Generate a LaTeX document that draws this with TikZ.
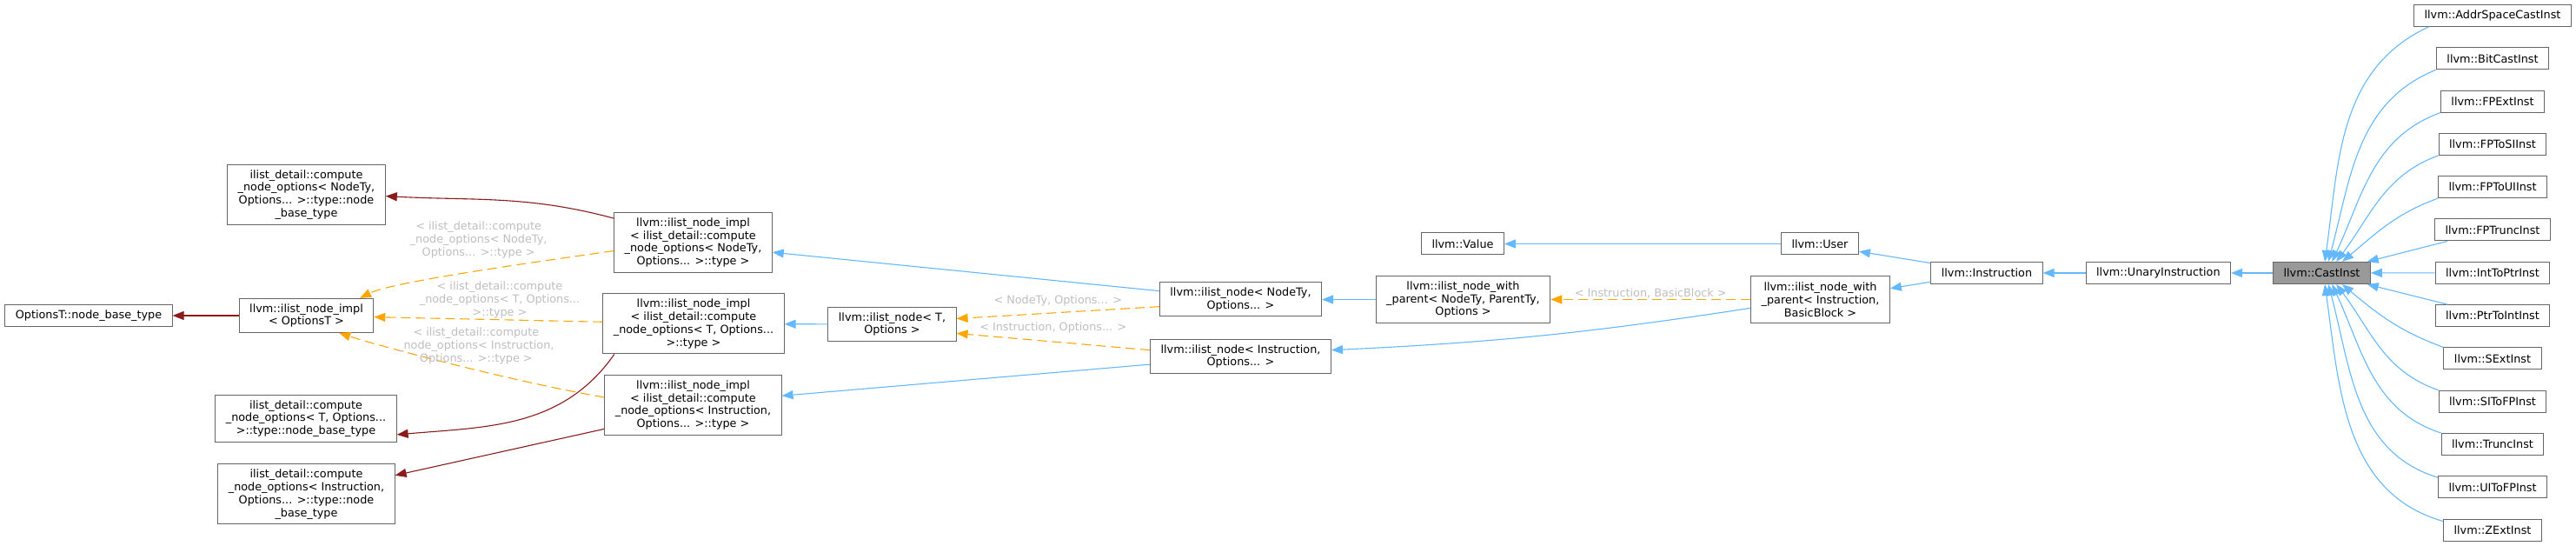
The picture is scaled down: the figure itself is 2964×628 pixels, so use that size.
\documentclass[tikz,border=0pt]{standalone}
\usepackage{fontspec}
\setmainfont{DejaVu Sans}
\usepackage{xcolor}
\usepackage{tikz}
\usetikzlibrary{arrows.meta, positioning}
\definecolor{DX_BLUE}{HTML}{63B8FF}
\definecolor{DX_ORANGE}{HTML}{FFA500}
\definecolor{DX_RED}{HTML}{8B1A1A}
\definecolor{DX_GREY}{HTML}{666666}
\definecolor{DX_FOCUS}{HTML}{999999}
\definecolor{DX_LABEL}{HTML}{BEBEBE}
\newcommand{\dxfont}{\fontsize{12.8}{14.8}\selectfont}
\tikzset{
  cls/.style={
    rectangle, draw=DX_GREY, fill=white, line width=1pt,
    minimum height=25pt, inner xsep=12pt, inner ysep=2pt,
    text centered, align=center, font=\dxfont},
  cls2/.style={cls, minimum height=39pt},
  cls3/.style={cls, minimum height=54pt},
  cls4/.style={cls, minimum height=69pt},
  focus/.style={cls, fill=DX_FOCUS},
  inh/.style={-{Triangle[length=13pt,width=10pt]}, line width=1.1pt, color=DX_BLUE},
  tpl/.style={inh, color=DX_ORANGE, dash pattern=on 11pt off 6pt},
  dep/.style={inh, color=DX_RED},
  lbl/.style={font=\dxfont, text=DX_LABEL, align=center, inner sep=1pt},
}

\begin{document}
\begin{tikzpicture}[x=1pt, y=1pt, node distance=23.3pt]
  \useasboundingbox (0,0) rectangle (2964,628);

  % base side
  \node[cls] (optbase) at (102,265) {OptionsT::node\_base\_type};
  \node[cls2] (implopt) at (352.5,265) {llvm::ilist\_node\_impl\\< OptionsT >};
  \node[cls4] (cnonodety) at (352.5,404)
    {ilist\_detail::compute\\\_node\_options< NodeTy,\\Options... >::type::node\\\_base\_type};
  \node[cls3] (cnot) at (352,146.5)
    {ilist\_detail::compute\\\_node\_options< T, Options...\\>::type::node\_base\_type};
  \node[cls4] (cnoinstr) at (352.5,59.5)
    {ilist\_detail::compute\\\_node\_options< Instruction,\\Options... >::type::node\\\_base\_type};

  \node[cls4] (implnodety) at (797.5,349)
    {llvm::ilist\_node\_impl\\< ilist\_detail::compute\\\_node\_options< NodeTy,\\Options... >::type >};
  \node[cls4] (implt) at (798,255.5)
    {llvm::ilist\_node\_impl\\< ilist\_detail::compute\\\_node\_options< T, Options...\\>::type >};
  \node[cls4] (implinstr) at (797.5,162)
    {llvm::ilist\_node\_impl\\< ilist\_detail::compute\\\_node\_options< Instruction,\\Options... >::type >};

  \node[cls2] (nodet) at (1026.5,255) {llvm::ilist\_node< T,\\Options >};
  \node[cls2] (nodenodety) at (1427.5,283.5) {llvm::ilist\_node< NodeTy,\\Options... >};
  \node[cls2] (nodeinstr) at (1427.5,218) {llvm::ilist\_node< Instruction,\\Options... >};

  \node[cls3] (withnodety) at (1683.5,283.5)
    {llvm::ilist\_node\_with\\\_parent< NodeTy, ParentTy,\\Options >};
  \node[cls3] (withinstr) at (2094.5,283.5)
    {llvm::ilist\_node\_with\\\_parent< Instruction,\\BasicBlock >};
  \node[cls] (value) at (1683,347.5) {llvm::Value};
  \node[cls] (user) at (2094,347.5) {llvm::User};

  % main chain
  \node[focus] (cast) at (2671.5,314) {llvm::CastInst};
  \node[cls, left=48pt of cast] (unary) {llvm::UnaryInstruction};
  \node[cls, left=49pt of unary] (instr) {llvm::Instruction};

  % derived classes
  \node[cls] (addrspace) at (2868,610) {llvm::AddrSpaceCastInst};
  \node[cls, below=of addrspace] (bitcast) {llvm::BitCastInst};
  \node[cls, below=of bitcast] (fpext) {llvm::FPExtInst};
  \node[cls, below=of fpext] (fptosi) {llvm::FPToSIInst};
  \node[cls, below=of fptosi] (fptoui) {llvm::FPToUIInst};
  \node[cls, below=of fptoui] (fptrunc) {llvm::FPTruncInst};
  \node[cls, below=of fptrunc] (inttoptr) {llvm::IntToPtrInst};
  \node[cls, below=of inttoptr] (ptrtoint) {llvm::PtrToIntInst};
  \node[cls, below=of ptrtoint] (sext) {llvm::SExtInst};
  \node[cls, below=of sext] (sitofp) {llvm::SIToFPInst};
  \node[cls, below=of sitofp] (trunc) {llvm::TruncInst};
  \node[cls, below=of trunc] (uitofp) {llvm::UIToFPInst};
  \node[cls, below=of uitofp] (zext) {llvm::ZExtInst};

  \draw[inh] (addrspace.190) to[out=205, in=82] (cast.75);
  \draw[inh] (bitcast.south west) to[out=202, in=75] (cast.60);
  \draw[inh] (fpext.south west) to[out=200, in=65] (cast.48);
  \draw[inh] (fptosi.south west) to[out=200, in=53] (cast.38);
  \draw[inh] (fptoui.south west) to[out=200, in=40] (cast.29);
  \draw[inh] (fptrunc.194) -- (cast.14);
  \draw[inh] (inttoptr) -- (cast);
  \draw[inh] (ptrtoint.166) -- (cast.-14);
  \draw[inh] (sext.north west) to[out=160, in=-40] (cast.-29);
  \draw[inh] (sitofp.north west) to[out=161, in=-53] (cast.-38);
  \draw[inh] (trunc.north west) to[out=162, in=-65] (cast.-48);
  \draw[inh] (uitofp.170) to[out=163, in=-75] (cast.-60);
  \draw[inh] (zext.170) to[out=164, in=-82] (cast.-75);

  \draw[inh] (cast) -- (unary);
  \draw[inh] (unary) -- (instr);
  \draw[inh] (instr.170) -- (user.-11);
  \draw[inh] (instr.189) -- (withinstr.9);
  \draw[inh] (user) -- (value);
  \draw[inh] (withinstr.187) to[bend left=3] (nodeinstr.4);
  \draw[inh] (withnodety) -- (nodenodety);
  \draw[inh] (nodenodety.174) -- (implnodety.-7);
  \draw[inh] (nodet) -- (implt);
  \draw[inh] (nodeinstr.185) -- (implinstr.6);

  \draw[tpl] (withinstr) -- node[lbl, above] {< Instruction, BasicBlock >} (withnodety);
  \draw[tpl] (nodenodety.185) -- node[lbl, above=6pt] {< NodeTy, Options... >} (nodet.5);
  \draw[tpl] (nodeinstr.176) -- node[lbl, above=8pt] {< Instruction, Options... >} (nodet.-8);
  \draw[tpl] (implnodety.186) to[out=188, in=27, out distance=107pt, in distance=40pt]
    node[lbl, above=13pt, pos=0.45]
    {< ilist\_detail::compute\\\_node\_options< NodeTy,\\Options... >::type >} (implopt.18);
  \draw[tpl] (implt) -- node[lbl, above, pos=0.45]
    {< ilist\_detail::compute\\\_node\_options< T, Options...\\>::type >} (implopt);
  \draw[tpl] (implinstr.175) to[out=170, in=-18, out distance=120pt, in distance=40pt]
    node[lbl, above=5pt, pos=0.4]
    {< ilist\_detail::compute\\\_node\_options< Instruction,\\Options... >::type >} (implopt.-28);

  \draw[dep] (implopt) -- (optbase);
  \draw[dep] (implnodety.163) to[out=165, in=-3] (cnonodety.-1);
  \draw[dep] (implt.201) to[out=235, in=5] (cnot.-10);
  \draw[dep] (implinstr.195) -- (cnoinstr.12);

\end{tikzpicture}
\end{document}
